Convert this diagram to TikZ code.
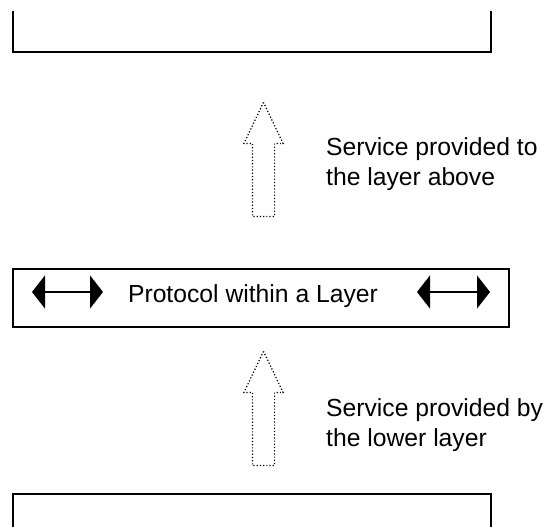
\documentclass[tikz,border=0pt]{standalone}
\usepackage{fontspec}
\setmainfont{Liberation Sans}
\usetikzlibrary{positioning,shapes.arrows,arrows.meta}

\begin{document}
\begin{tikzpicture}[x=1pt, y=1pt, font=\fontsize{24.7}{30}\selectfont, layer/.style={rectangle, draw, line width=1.8pt, inner sep=0pt}, service/.style={single arrow, draw, line width=1.2pt, dotted, rotate=90, anchor=tail, minimum height=114pt, text height=21pt, text depth=0pt, single arrow head extend=8.5pt, single arrow tip angle=51, inner sep=0pt}, peer/.style={{Triangle[length=13pt,width=33pt]}-{Triangle[length=13pt,width=33pt]}, line width=1.5pt}, caption/.style={align=left, inner sep=0pt}]

  \useasboundingbox (0,0) rectangle (547,-527);
  \clip (0,-12) rectangle (547,-527);

  \node[layer, minimum width=478pt, minimum height=80pt] (upper) at (252,-12) {};
  \node[layer, minimum width=496pt, minimum height=58pt] (middle) at (261,-298) {};
  \node[layer, minimum width=478pt, minimum height=80pt] (lower) at (252,-534) {};

  \node[inner sep=0pt] (protocol) at (253,-296.6) {Protocol within a Layer};
  \coordinate (leftA) at (32,-292);
  \coordinate (leftB) at (103,-292);
  \coordinate (rightA) at (417,-292);
  \coordinate (rightB) at (490,-292);
  \draw[peer] (leftA) -- (leftB);
  \draw[peer] (rightA) -- (rightB);

  \node[service] (upArrow) at (263.5,-217) {};
  \node[service] (lowArrow) at (263.5,-466) {};
  \node[caption, right=62.5pt of upArrow.tail, yshift=52.4pt] (aboveText) {Service provided to\\the layer above};
  \node[caption, right=62.5pt of lowArrow.tail, yshift=40.4pt] (belowText) {Service provided by\\the lower layer};
\end{tikzpicture}
\end{document}
